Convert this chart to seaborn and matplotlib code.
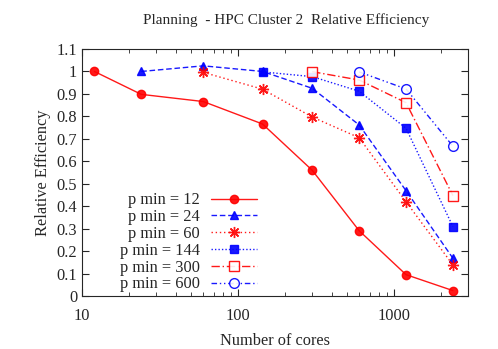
import numpy as np
import pandas as pd
import matplotlib
matplotlib.use("Agg")
import matplotlib.pyplot as plt
import seaborn as sns
from matplotlib.ticker import FuncFormatter, LogLocator, MultipleLocator

# datos
cores = [12, 24, 60, 144, 300, 600, 1200, 2400]
eff_12 = [1.0, 0.898, 0.866, 0.766, 0.56, 0.291, 0.095, 0.024]
eff_24 = [1.0, 1.025, 1.0, 0.925, 0.762, 0.469, 0.168]
eff_60 = [0.996, 0.921, 0.797, 0.705, 0.42, 0.138]
eff_144 = [0.998, 0.977, 0.912, 0.747, 0.309]
eff_300 = [0.999, 0.962, 0.861, 0.447]
eff_600 = [0.998, 0.922, 0.667]
labels = ["p min = 12", "p min = 24", "p min = 60", "p min = 144", "p min = 300", "p min = 600"]

series = [eff_12, eff_24, eff_60, eff_144, eff_300, eff_600]
rows = []
for lab, vals in zip(labels, series):
    xs = cores[len(cores) - len(vals):]
    for x, y in zip(xs, vals):
        rows.append({"cores": x, "eff": y, "serie": lab})
df = pd.DataFrame(rows)

sns.set_style("ticks")
plt.rcParams["font.family"] = ["Liberation Serif", "DejaVu Serif"]
fs = 11.8

estilos = [
    dict(color="#ff0000", ls="-", marker="o", ms=6, mfc="#ff0000"),
    dict(color="#0000ff", ls=(0, (4, 2)), marker="^", ms=6, mfc="#0000ff"),
    dict(color="#ff0000", ls=(0, (1, 2)), marker=(8, 2, 0), ms=8, mfc="#ff0000"),
    dict(color="#0000ff", ls=(0, (1, 1.5)), marker="s", ms=6, mfc="#0000ff"),
    dict(color="#ff0000", ls=(0, (6, 2, 1, 2)), marker="s", ms=7, mfc="white"),
    dict(color="#0000ff", ls=(0, (4, 2, 1, 2, 1, 2)), marker="o", ms=7, mfc="white"),
]

fig = plt.figure(figsize=(4.98, 3.49), dpi=100)
ax = fig.add_axes([0.1647, 0.1519, 0.9398 - 0.1647, 0.8596 - 0.1519])

for lab, st in zip(labels, estilos):
    sub = df[df["serie"] == lab]
    sns.lineplot(data=sub, x="cores", y="eff", ax=ax, label=lab, color=st["color"],
                 linestyle=st["ls"], marker=st["marker"], markersize=st["ms"],
                 markerfacecolor=st["mfc"], markeredgecolor=st["color"],
                 markeredgewidth=1.0, linewidth=1.0, alpha=0.9)

ax.set_xscale("log")
ax.set_xlim(10, 3000)
ax.set_ylim(0, 1.1)
ax.yaxis.set_major_locator(MultipleLocator(0.1))
ax.yaxis.set_major_formatter(FuncFormatter(lambda v, p: "%g" % round(v, 2)))
ax.xaxis.set_major_locator(LogLocator(base=10))
ax.xaxis.set_minor_locator(LogLocator(base=10, subs=np.arange(2, 10)))
ax.xaxis.set_major_formatter(FuncFormatter(lambda v, p: "%d" % v))
ax.tick_params(which="both", direction="in", top=True, right=True, labelsize=fs)
ax.tick_params(axis="x", which="major", pad=9)
ax.tick_params(which="major", length=5)
ax.tick_params(which="minor", length=3)
for s in ax.spines.values():
    s.set_linewidth(0.8)

ax.set_xlabel("Number of cores", fontsize=fs, labelpad=6)
ax.set_ylabel("Relative Efficiency", fontsize=fs)
ax.set_title("Planning  - HPC Cluster 2  Relative Efficiency", fontsize=11, pad=18, x=0.53)

ax.legend(loc="lower left", bbox_to_anchor=(0.06, -0.045), frameon=False, markerfirst=False,
          handlelength=2.8, labelspacing=0.05, fontsize=fs, handletextpad=0.7)

fig.savefig("out.png", dpi=100)
